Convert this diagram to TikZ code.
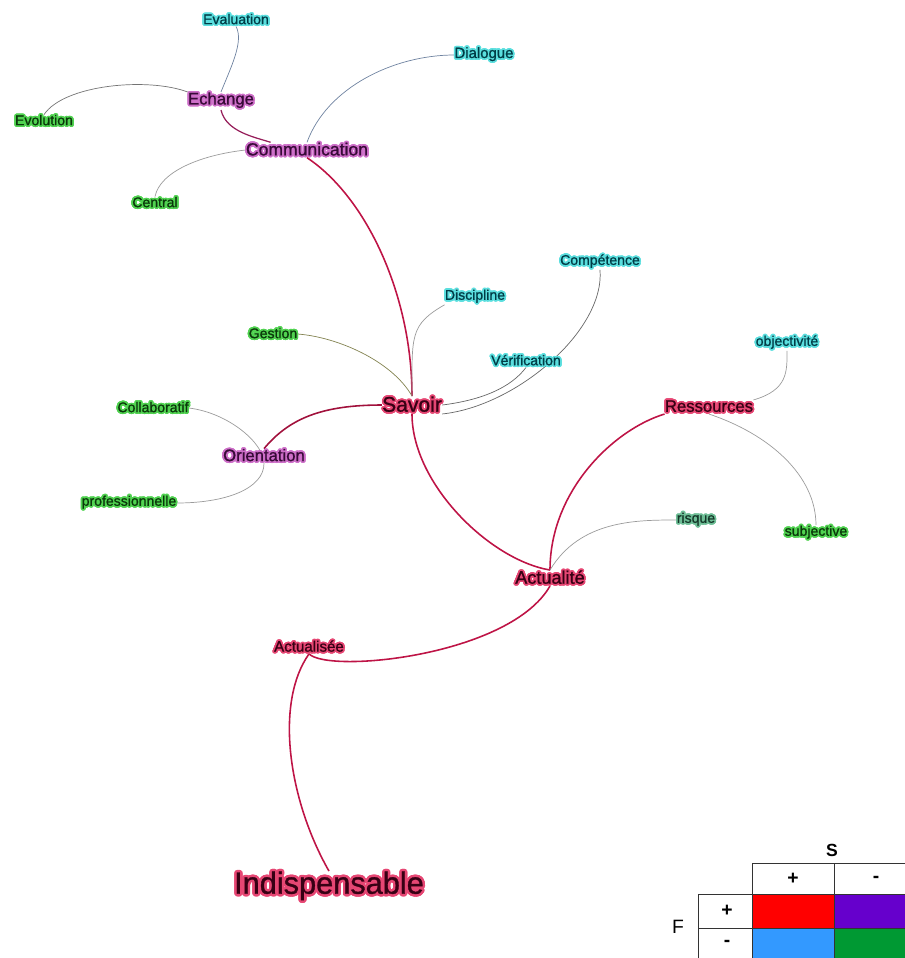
\documentclass[tikz,border=0pt]{standalone}
\usepackage{fontspec}
\setmainfont{Liberation Sans}
\newfontfamily\wordfont{Liberation Sans}[FakeBold=1]
\usepackage[copies]{contour}
\contourlength{1pt}

\definecolor{cyanink}{RGB}{0,60,70}
\definecolor{cyanglow}{RGB}{90,222,222}
\definecolor{greenink}{RGB}{10,55,10}
\definecolor{greenglow}{RGB}{80,210,80}
\definecolor{purpleink}{RGB}{55,10,55}
\definecolor{purpleglow}{RGB}{205,110,200}
\definecolor{redink}{RGB}{55,0,20}
\definecolor{redglow}{RGB}{230,70,115}
\definecolor{tealink}{RGB}{20,55,40}
\definecolor{tealglow}{RGB}{110,190,150}
\definecolor{linkred}{RGB}{190,20,70}
\definecolor{linkplum}{RGB}{150,30,90}
\definecolor{linkslate}{RGB}{110,130,160}
\definecolor{linkgray}{RGB}{155,155,155}
\definecolor{linkolive}{RGB}{130,130,80}
\definecolor{cellred}{RGB}{255,0,0}
\definecolor{cellviolet}{RGB}{102,0,204}
\definecolor{cellblue}{RGB}{51,153,255}
\definecolor{cellgreen}{RGB}{0,153,51}

\pgfdeclarelayer{edges}
\pgfsetlayers{edges,main}

\begin{document}
\begin{tikzpicture}[
  x=0.02cm, y=-0.02cm,
  word/.style={inner sep=0pt},
  small/.style={word, font=\wordfont\fontsize{8}{9}\selectfont},
  medium/.style={word, font=\wordfont\fontsize{9.5}{11}\selectfont},
  large/.style={word, font=\wordfont\fontsize{10.3}{12}\selectfont},
  hub/.style={word, font=\wordfont\fontsize{12}{14}\selectfont},
  root/.style={word, font=\wordfont\fontsize{17.5}{20}\selectfont},
  strong/.style={line width=0.9pt, draw=linkred},
  weak/.style={line width=0.4pt, draw=linkgray},
  cellline/.style={line width=0.5pt, draw=black!80},
  legend/.style={inner sep=0pt, font=\bfseries\fontsize{11}{12}\selectfont},
]
\useasboundingbox (0,0) rectangle (905,958);

% words
\node[small, text=cyanink] (eval) at (236,20) {\contour{cyanglow}{Evaluation}};
\node[small, text=cyanink, font=\wordfont\fontsize{8.5}{10}\selectfont] (dialogue) at (484,55) {\contour{cyanglow}{Dialogue}};
\node[medium, text=purpleink] (echange) at (221,101) {\contour{purpleglow}{Echange}};
\node[small, text=greenink] (evol) at (44,121) {\contour{greenglow}{Evolution}};
\node[large, text=purpleink, font=\wordfont\fontsize{10}{12}\selectfont] (comm) at (307,150) {\contour{purpleglow}{Communication}};
\node[small, text=greenink] (central) at (155,203) {\contour{greenglow}{Central}};
\node[small, text=cyanink] (compet) at (600,262) {\contour{cyanglow}{Compétence}};
\node[small, text=cyanink] (discip) at (475,297) {\contour{cyanglow}{Discipline}};
\node[small, text=greenink] (gestion) at (273,334) {\contour{greenglow}{Gestion}};
\node[small, text=cyanink] (objec) at (787,343) {\contour{cyanglow}{objectivité}};
\node[small, text=cyanink] (verif) at (526,361) {\contour{cyanglow}{Vérification}};
\node[hub, text=redink] (savoir) at (412,405) {\contour{redglow}{Savoir}};
\node[medium, text=redink] (ressources) at (709,407) {\contour{redglow}{Ressources}};
\node[small, text=greenink] (collab) at (153,408) {\contour{greenglow}{Collaboratif}};
\node[medium, text=purpleink] (orient) at (264,456) {\contour{purpleglow}{Orientation}};
\node[small, text=greenink] (prof) at (129,503) {\contour{greenglow}{professionnelle}};
\node[small, text=tealink] (risque) at (696,520) {\contour{tealglow}{risque}};
\node[small, text=greenink] (subj) at (816,533) {\contour{greenglow}{subjective}};
\node[large, text=redink] (actualite) at (550,578) {\contour{redglow}{Actualité}};
\node[small, text=redink, font=\wordfont\fontsize{8.6}{10}\selectfont] (actualisee) at (309,647) {\contour{redglow}{Actualisée}};
\node[root, text=redink] (indisp) at (329,887) {\contourlength{1.4pt}\contour{redglow}{Indispensable}};

% links
\begin{pgfonlayer}{edges}
\draw[weak, draw=linkslate] (eval.south) .. controls +(8,15) and +(10,-25) .. (echange.north);
\draw[weak, draw=black!55] (evol.north) .. controls +(20,-30) and +(-40,-15) .. (echange.north west);
\draw[strong, draw=linkplum, line width=0.7pt] (echange.south) .. controls +(5,22) and +(-15,-5) .. ([xshift=0.5cm]comm.north west);
\draw[weak, draw=linkslate] (comm.north) .. controls +(20,-55) and +(-60,0) .. (dialogue.west);
\draw[weak] (comm.west) .. controls +(-45,5) and +(5,-25) .. (central.north);
\draw[strong] (comm.south) .. controls +(60,40) and +(0,-100) .. (savoir.north);
\draw[weak, draw=linkolive] (gestion.east) .. controls +(40,3) and +(-20,-35) .. (savoir.north);
\draw[weak] (savoir.north) .. controls +(0,-60) and +(-35,20) .. (discip.south west);
\draw[weak, draw=black!60] (savoir.east) .. controls +(40,-5) and +(-15,20) .. (verif.south);
\draw[weak, draw=black!60] (savoir.south east) .. controls +(75,-8) and +(5,60) .. (compet.south);
\draw[strong, draw=linkred!85!black] (savoir.west) .. controls +(-60,0) and +(25,-30) .. (orient.north);
\draw[weak] (collab.east) .. controls +(40,5) and +(0,-20) .. (orient.south);
\draw[weak] (prof.east) .. controls +(50,0) and +(0,25) .. (orient.south);
\draw[strong] (savoir.south) .. controls +(0,70) and +(-60,-10) .. (actualite.north);
\draw[strong] (actualite.north) .. controls +(0,-80) and +(-50,15) .. (ressources.south west);
\draw[weak] (ressources.north east) .. controls +(35,-10) and +(0,20) .. (objec.south);
\draw[weak] (ressources.south) .. controls +(60,20) and +(0,-50) .. (subj.north);
\draw[weak] (actualite.north) .. controls +(30,-50) and +(-40,0) .. (risque.west);
\draw[strong] (actualite.south) .. controls +(-40,70) and +(20,20) .. (actualisee.south);
\draw[strong] (actualisee.south) .. controls +(-35,50) and +(-40,-70) .. (indisp.north);
\end{pgfonlayer}

% legend
\fill[cellred] (752,894) rectangle (834,928);
\fill[cellviolet] (834,894) rectangle (905,928);
\fill[cellblue] (752,928) rectangle (834,958);
\fill[cellgreen] (834,928) rectangle (905,958);
\draw[cellline] (905,863) -- (752,863) -- (752,958);
\draw[cellline] (834,863) -- (834,958);
\draw[cellline] (905,894) -- (698,894) -- (698,958);
\draw[cellline] (698,928) -- (905,928);
\node[legend] (splus) at (793,879) {+};
\node[legend] (sminus) at (876,879) {-};
\node[legend] (fplus) at (727,911) {+};
\node[legend] (fminus) at (727,943) {-};
\node[legend, font=\bfseries\fontsize{10}{11}\selectfont] (shead) at (832,850) {S};
\node[legend, font=\fontsize{11}{12}\selectfont] (fhead) at (678,927) {F};

\end{tikzpicture}
\end{document}
